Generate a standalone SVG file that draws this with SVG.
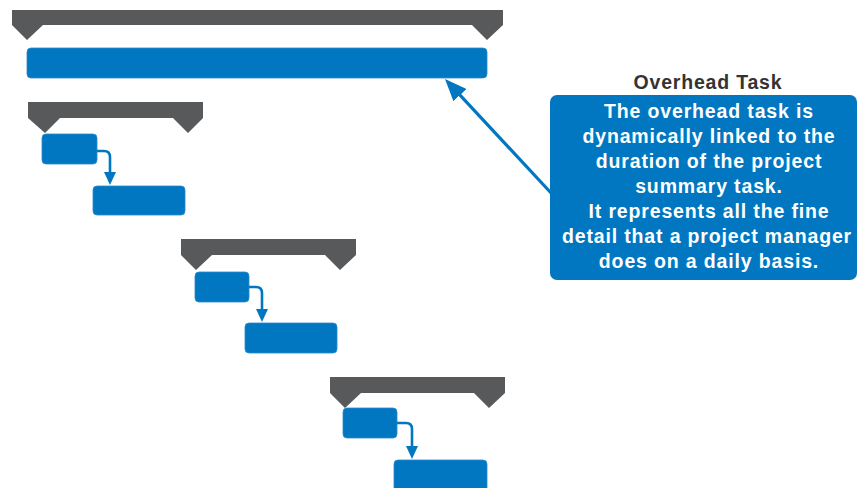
<svg xmlns="http://www.w3.org/2000/svg" width="859" height="488" viewBox="0 0 859 488">
  <style>
    .summary { fill: #58595b; }
    .task { fill: #0077c0; stroke: #2a8ccc; stroke-width: 0.8; }
    .link { fill: none; stroke: #0077c0; stroke-width: 2.6; }
    .pointer { fill: none; stroke: #0077c0; stroke-width: 3.2; }
    .callout { fill: #0077c0; }
    .title { font-family: "Liberation Sans", Arial, sans-serif; font-weight: bold; font-size: 19.5px; letter-spacing: 0.8px; fill: #333333; text-anchor: middle; }
    .body { font-family: "Liberation Sans", Arial, sans-serif; font-weight: bold; font-size: 19.5px; letter-spacing: 0.85px; fill: #ffffff; text-anchor: middle; }
  </style>
  <defs>
    <marker id="arrowSmall" markerUnits="userSpaceOnUse" viewBox="0 0 13 12" markerWidth="13" markerHeight="12" refX="8" refY="6" orient="auto">
      <path d="M0,0 L13,6 L0,12 Z" fill="#0077c0"/>
    </marker>
    <marker id="arrowLarge" markerUnits="userSpaceOnUse" viewBox="0 0 22 18" markerWidth="22" markerHeight="18" refX="16" refY="9" orient="auto">
      <path d="M0,0 L22,9 L0,18 Z" fill="#0077c0"/>
    </marker>
  </defs>

  <!-- project summary task -->
  <g id="project-summary">
    <path class="summary" d="M12,10 H503 V25 L487,40 L472,25 H43 L27,40 L12,25 Z"/>
  </g>

  <!-- overhead task bar -->
  <g id="overhead-task">
    <rect class="task" x="27" y="48" width="460" height="30" rx="4"/>
  </g>

  <!-- phase 1 -->
  <g id="summary-1">
    <path class="summary" d="M28,102 H203 V118 L188,133 L173,118 H60 L45,133 L28,118 Z"/>
  </g>
  <g id="task-1a">
    <rect class="task" x="42" y="134" width="55" height="30" rx="4"/>
  </g>
  <g id="task-1b">
    <rect class="task" x="93" y="186" width="92" height="29" rx="4"/>
  </g>

  <!-- phase 2 -->
  <g id="summary-2">
    <path class="summary" d="M181,239 H356 V255 L340,270 L325,255 H212 L196,270 L181,255 Z"/>
  </g>
  <g id="task-2a">
    <rect class="task" x="195" y="272" width="54" height="30" rx="4"/>
  </g>
  <g id="task-2b">
    <rect class="task" x="245" y="323" width="92" height="30" rx="4"/>
  </g>

  <!-- phase 3 -->
  <g id="summary-3">
    <path class="summary" d="M330,377 H505 V393 L489,408 L474,393 H361 L345,408 L330,393 Z"/>
  </g>
  <g id="task-3a">
    <rect class="task" x="343" y="408" width="54" height="30" rx="4"/>
  </g>
  <g id="task-3b">
    <rect class="task" x="394" y="460" width="93" height="34" rx="4"/>
  </g>

  <!-- note box -->
  <g id="overhead-note">
    <text class="title" x="708" y="89">Overhead Task</text>
    <rect class="callout" x="550" y="95" width="307" height="185" rx="7"/>
    <text class="body" x="709" y="118">The overhead task is</text>
    <text class="body" x="709" y="143">dynamically linked to the</text>
    <text class="body" x="709" y="168">duration of the project</text>
    <text class="body" x="709" y="193">summary task.</text>
    <text class="body" x="709" y="218">It represents all the fine</text>
    <text class="body" x="707" y="243">detail that a project manager</text>
    <text class="body" x="709" y="268">does on a daily basis.</text>
  </g>

  <!-- connectors -->
  <g id="connectors">
    <path class="link" d="M97,151 H104 Q110,151 110,157 V180" marker-end="url(#arrowSmall)"/>
    <path class="link" d="M249,287 H256 Q262,287 262,293 V317" marker-end="url(#arrowSmall)"/>
    <path class="link" d="M397,423 H406 Q412,423 412,429 V454" marker-end="url(#arrowSmall)"/>
    <path class="pointer" d="M552,194 L449.1,83.4" marker-end="url(#arrowLarge)"/>
  </g>
</svg>
